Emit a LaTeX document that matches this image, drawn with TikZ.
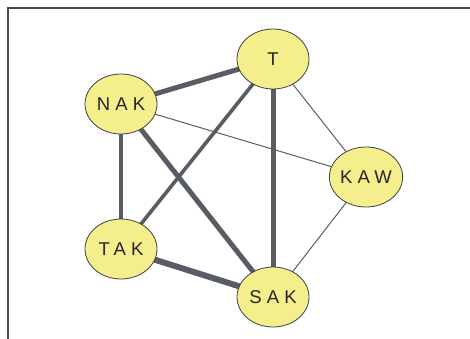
\documentclass[tikz,border=0pt]{standalone}
\usepackage{fontspec}
\usetikzlibrary{shapes.geometric}
\setmainfont{Liberation Sans}
\newfontfamily\lblfont[LetterSpace=28]{Liberation Sans}
\definecolor{nodefill}{RGB}{245,238,140}
\definecolor{edgecol}{RGB}{88,93,100}
\definecolor{framecol}{RGB}{70,75,78}
\begin{document}
\begin{tikzpicture}[x=1pt,y=-1pt,
  vert/.style={ellipse, draw=black!75, line width=0.8pt, fill=nodefill,
    minimum width=72pt, minimum height=60pt, inner sep=0pt,
    font=\lblfont\fontsize{18.5}{18.5}\selectfont, text=black!85},
  edgeA/.style={draw=edgecol, line width=1pt},
  edgeB/.style={draw=edgecol, line width=3.6pt},
  edgeC/.style={draw=edgecol, line width=5pt},
  edgeD/.style={draw=edgecol, line width=6pt}]
\useasboundingbox (0,0) rectangle (470,339);
\draw[framecol, line width=2pt] (470,8.5) -- (7.5,8.5) -- (7.5,339);
\coordinate (pT) at (273,59);
\coordinate (pNAK) at (121,104);
\coordinate (pKAW) at (366,177);
\coordinate (pTAK) at (121,249);
\coordinate (pSAK) at (273,297);
\draw[edgeA] (pT) -- (pKAW);
\draw[edgeA] (pNAK) -- (pKAW);
\draw[edgeA] (pKAW) -- (pSAK);
\draw[edgeB] (pNAK) -- (pTAK);
\draw[edgeB] (pT) -- (pTAK);
\draw[edgeC] (pNAK) -- (pT);
\draw[edgeC] (pT) -- (pSAK);
\draw[edgeC] (pNAK) -- (pSAK);
\draw[edgeD] (pTAK) -- (pSAK);
\node[vert] (T) at (pT) {T};
\node[vert] (NAK) at (pNAK) {NAK};
\node[vert] (KAW) at (pKAW) {KAW};
\node[vert] (TAK) at (pTAK) {TAK};
\node[vert] (SAK) at (pSAK) {SAK};
\end{tikzpicture}
\end{document}
